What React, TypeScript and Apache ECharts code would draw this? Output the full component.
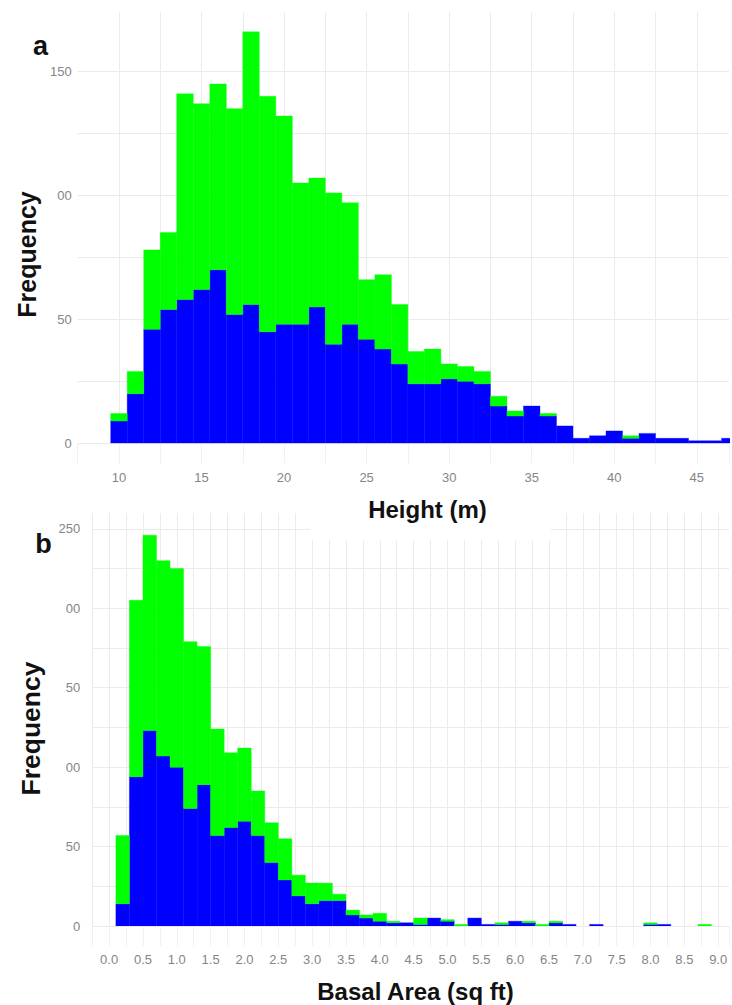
import React, { useEffect, useRef } from "react";
import * as echarts from "echarts";

// ---- Panel a: Height (m) histogram, bin width 1 ----
const heightBins = [10, 11, 12, 13, 14, 15, 16, 17, 18, 19, 20, 21, 22, 23, 24, 25, 26, 27, 28, 29, 30, 31, 32, 33, 34, 35, 36, 37, 38, 39, 40, 41, 42, 43, 44, 45, 46, 47];
const heightBlue = [9, 20, 46, 54, 58, 62, 70, 52, 56, 45, 48, 48, 55, 40, 48, 42, 38, 32, 24, 24, 26, 25, 24, 15, 11, 15, 11, 7, 2, 3, 5, 2, 4, 2, 2, 1, 1, 2];
const heightGreen = [3, 9, 32, 31, 83, 75, 75, 83, 110, 95, 84, 57, 52, 61, 49, 24, 30, 24, 13, 14, 6, 6, 5, 4, 2, 0, 1, 0, 0, 0, 0, 1, 0, 0, 0, 0, 0, 0];
const heightBinWidth = 1;
const heightXTicks = [10, 15, 20, 25, 30, 35, 40, 45];
const heightYTicks = [0, 50, 100, 150];
const heightYLabels = ["0", "50", "00", "150"];

// ---- Panel b: Basal Area (sq ft) histogram, bin width 0.2 ----
const basalBins = [0.2, 0.4, 0.6, 0.8, 1.0, 1.2, 1.4, 1.6, 1.8, 2.0, 2.2, 2.4, 2.6, 2.8, 3.0, 3.2, 3.4, 3.6, 3.8, 4.0, 4.2, 4.4, 4.6, 4.8, 5.0, 5.2, 5.4, 5.6, 5.8, 6.0, 6.2, 6.4, 6.6, 6.8, 7.0, 7.2, 7.4, 7.6, 7.8, 8.0, 8.2, 8.4, 8.6, 8.8];
const basalBlue = [14, 94, 123, 107, 100, 74, 89, 57, 62, 66, 57, 40, 29, 19, 14, 16, 16, 7, 5, 3, 2, 2, 1, 5, 3, 0, 5, 1, 1, 3, 2, 0, 2, 1, 0, 1, 0, 0, 0, 1, 1, 0, 0, 0];
const basalGreen = [43, 111, 123, 123, 125, 105, 87, 67, 47, 46, 28, 25, 26, 13, 13, 11, 4, 3, 2, 5, 1, 0, 4, 0, 1, 1, 0, 0, 1, 0, 1, 1, 1, 0, 0, 0, 0, 0, 0, 1, 0, 0, 0, 1];
const basalBinWidth = 0.2;
const basalXTicks = [0, 0.5, 1, 1.5, 2, 2.5, 3, 3.5, 4, 4.5, 5, 5.5, 6, 6.5, 7, 7.5, 8, 8.5, 9];
const basalXLabels = ["0.0", "0.5", "1.0", "1.5", "2.0", "2.5", "3.0", "3.5", "4.0", "4.5", "5.0", "5.5", "6.0", "6.5", "7.0", "7.5", "8.0", "8.5", "9.0"];
const basalYTicks = [0, 50, 100, 150, 200, 250];
const basalYLabels = ["0", "50", "00", "50", "00", "250"];

const GREEN = "#00ff00";
const BLUE = "#0000ff";
const GRID_COLOR = "#ebebeb";
const LABEL_COLOR = "#858585";
const FONT = '"Liberation Sans", Arial, Helvetica, sans-serif';

function rects(bins: number[], w: number, lower: number[], upper: number[]) {
  return bins.map((c, i) => [c - w / 2, c + w / 2, lower[i], upper[i]]);
}

function makeRender(color: string) {
  return (params: any, api: any) => {
    const x0 = api.value(0);
    const x1 = api.value(1);
    const y0 = api.value(2);
    const y1 = api.value(3);
    if (!(y1 > y0)) return null;
    const a = api.coord([x0, y1]);
    const b = api.coord([x1, y0]);
    return {
      type: "rect",
      shape: { x: a[0], y: a[1], width: b[0] - a[0], height: b[1] - a[1] },
      style: { fill: color, stroke: color, lineWidth: 0.4 },
    };
  };
}

function isTick(list: number[], v: number) {
  return list.findIndex((t) => Math.abs(t - v) < 1e-6);
}

export default function App() {
  const ref = useRef<HTMLDivElement>(null);

  useEffect(() => {
    if (!ref.current) return;
    const chart = echarts.init(ref.current, null, { renderer: "svg" });

    const heightTotals = heightBlue.map((b, i) => b + heightGreen[i]);
    const basalTotals = basalBlue.map((b, i) => b + basalGreen[i]);
    const zeroH = heightBins.map(() => 0);
    const zeroB = basalBins.map(() => 0);

    const tickLabelStyle = { color: LABEL_COLOR, fontSize: 13, fontFamily: FONT };

    chart.setOption({
      animation: false,
      backgroundColor: "#ffffff",
      grid: [
        { left: 77.7, top: 12, width: 654.3, height: 431.3 },
        { left: 92.2, top: 513, width: 639.8, height: 413 },
      ],
      xAxis: [
        {
          type: "value",
          gridIndex: 0,
          min: 7.5,
          max: 46.95,
          interval: 2.5,
          axisLine: { show: false },
          axisTick: { show: true, length: 20, lineStyle: { color: "#f1f1f1" } },
          axisLabel: {
            ...tickLabelStyle,
            margin: 28,
            formatter: (v: number) => (isTick(heightXTicks, v) >= 0 ? String(Math.round(v)) : ""),
          },
          splitLine: { show: true, showMinLine: false, showMaxLine: false, lineStyle: { color: GRID_COLOR, width: 1 } },
        },
        {
          type: "value",
          gridIndex: 1,
          min: -0.25,
          max: 9.16,
          interval: 0.25,
          axisLine: { show: false },
          axisTick: { show: true, length: 20, lineStyle: { color: "#f1f1f1" } },
          axisLabel: {
            ...tickLabelStyle,
            margin: 27,
            formatter: (v: number) => {
              const i = isTick(basalXTicks, v);
              return i >= 0 ? basalXLabels[i] : "";
            },
          },
          splitLine: { show: true, showMaxLine: false, lineStyle: { color: GRID_COLOR, width: 1 } },
        },
      ],
      yAxis: [
        {
          type: "value",
          gridIndex: 0,
          min: 0,
          max: 174,
          interval: 25,
          axisLine: { show: false },
          axisTick: { show: false },
          axisLabel: {
            ...tickLabelStyle,
            margin: 6,
            formatter: (v: number) => {
              const i = isTick(heightYTicks, v);
              return i >= 0 ? heightYLabels[i] : "";
            },
          },
          splitLine: { show: true, showMaxLine: false, lineStyle: { color: GRID_COLOR, width: 1 } },
        },
        {
          type: "value",
          gridIndex: 1,
          min: 0,
          max: 260,
          interval: 25,
          axisLine: { show: false },
          axisTick: { show: false },
          axisLabel: {
            ...tickLabelStyle,
            margin: 12,
            formatter: (v: number) => {
              const i = isTick(basalYTicks, v);
              return i >= 0 ? basalYLabels[i] : "";
            },
          },
          splitLine: { show: true, showMaxLine: false, lineStyle: { color: GRID_COLOR, width: 1 } },
        },
      ],
      series: [
        {
          type: "custom",
          name: "height-blue",
          xAxisIndex: 0,
          yAxisIndex: 0,
          clip: true,
          renderItem: makeRender(BLUE),
          data: rects(heightBins, heightBinWidth, zeroH, heightBlue),
          z: 3,
        },
        {
          type: "custom",
          name: "height-green",
          xAxisIndex: 0,
          yAxisIndex: 0,
          clip: true,
          renderItem: makeRender(GREEN),
          data: rects(heightBins, heightBinWidth, heightBlue, heightTotals),
          z: 3,
        },
        {
          type: "custom",
          name: "basal-blue",
          xAxisIndex: 1,
          yAxisIndex: 1,
          clip: true,
          renderItem: makeRender(BLUE),
          data: rects(basalBins, basalBinWidth, zeroB, basalBlue),
          z: 3,
        },
        {
          type: "custom",
          name: "basal-green",
          xAxisIndex: 1,
          yAxisIndex: 1,
          clip: true,
          renderItem: makeRender(GREEN),
          data: rects(basalBins, basalBinWidth, basalBlue, basalTotals),
          z: 3,
        },
      ],
      graphic: [
        { type: "rect", z: 100, shape: { x: 310, y: 503, width: 241, height: 37 }, style: { fill: "#ffffff" } },
        {
          type: "text", z: 101, x: 40.5, y: 45.5,
          style: { text: "a", fill: "#111111", font: `bold 27px ${FONT}`, textAlign: "center", textVerticalAlign: "middle" },
        },
        {
          type: "text", z: 101, x: 43.5, y: 543.5,
          style: { text: "b", fill: "#111111", font: `bold 27px ${FONT}`, textAlign: "center", textVerticalAlign: "middle" },
        },
        {
          type: "text", z: 101, x: 27, y: 254.5, rotation: Math.PI / 2,
          style: { text: "Frequency", fill: "#111111", font: `bold 25px ${FONT}`, textAlign: "center", textVerticalAlign: "middle" },
        },
        {
          type: "text", z: 101, x: 31, y: 728.5, rotation: Math.PI / 2,
          style: { text: "Frequency", fill: "#111111", font: `bold 26.5px ${FONT}`, textAlign: "center", textVerticalAlign: "middle" },
        },
        {
          type: "text", z: 101, x: 427.5, y: 509.5,
          style: { text: "Height (m)", fill: "#111111", font: `bold 24px ${FONT}`, textAlign: "center", textVerticalAlign: "middle" },
        },
        {
          type: "text", z: 101, x: 415.5, y: 991.5,
          style: { text: "Basal Area (sq ft)", fill: "#111111", font: `bold 24px ${FONT}`, textAlign: "center", textVerticalAlign: "middle" },
        },
      ],
    });

    return () => {
      chart.dispose();
    };
  }, []);

  return (
    <div
      ref={ref}
      style={{ position: "absolute", left: 0, top: 0, width: 732, height: 1005, background: "#ffffff" }}
    />
  );
}
